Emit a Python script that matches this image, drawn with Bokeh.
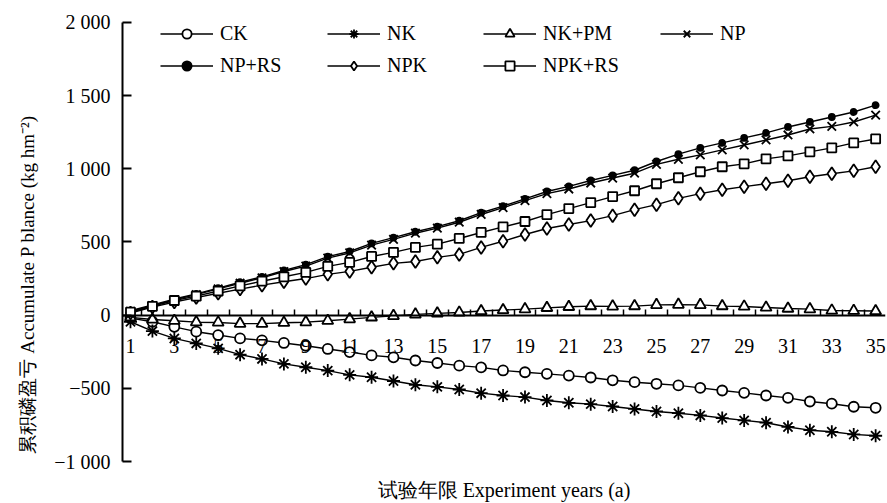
from bokeh.plotting import figure
from bokeh.models import Range1d, LinearAxis, FixedTicker, Legend, LegendItem, Title
from bokeh.embed import file_html
from bokeh.resources import INLINE

# ---------------- data ----------------
years = list(range(1, 36))

ck = [-20, -45, -80, -113, -136, -159, -172, -190, -209, -231, -252, -275, -288, -310, -327,
      -345, -357, -378, -390, -401, -413, -426, -445, -458, -469, -480, -497, -515, -531, -549,
      -565, -590, -605, -626, -633]
nk = [-45, -109, -159, -193, -227, -270, -299, -333, -356, -379, -408, -424, -450, -476, -490,
      -508, -533, -549, -560, -583, -599, -608, -624, -641, -658, -670, -685, -703, -719, -735,
      -764, -786, -797, -815, -824]
nk_pm = [-15, -30, -38, -48, -50, -58, -58, -52, -48, -38, -27, -15, -5, 5, 12,
         18, 28, 35, 41, 50, 57, 62, 60, 62, 70, 72, 70, 62, 59, 52,
         45, 41, 32, 30, 28]
np_ = [25, 65, 105, 140, 180, 218, 255, 298, 335, 390, 425, 478, 518, 560, 595,
       635, 688, 735, 782, 830, 862, 903, 937, 970, 1030, 1065, 1095, 1129, 1163, 1197,
       1231, 1272, 1290, 1320, 1367]
np_rs = [30, 70, 110, 145, 185, 225, 262, 305, 345, 400, 435, 490, 530, 570, 605,
         645, 700, 745, 795, 845, 880, 920, 955, 990, 1050, 1100, 1143, 1177, 1211, 1245,
         1286, 1320, 1354, 1388, 1435]
npk = [15, 55, 90, 120, 150, 178, 205, 228, 250, 279, 299, 327, 354, 367, 395,
       415, 463, 505, 551, 592, 619, 646, 680, 721, 755, 798, 830, 857, 878, 898,
       918, 946, 966, 986, 1014]
npk_rs = [20, 60, 100, 130, 165, 200, 232, 262, 292, 333, 361, 401, 429, 463, 485,
          524, 565, 603, 640, 687, 728, 769, 810, 850, 898, 939, 980, 1014, 1034, 1068,
          1088, 1116, 1143, 1177, 1204]

x_tick_years = list(range(1, 36, 2))
x_minor_ticks = [y + 0.5 for y in years[:-1]]
y_ticks = [-1000, -500, 0, 500, 1000, 1500, 2000]
y_tick_labels = ["\u22121 000", "\u2212500", "0", "500", "1 000", "1 500", "2 000"]

x_title = "试验年限 Experiment years (a)"
y_title = "累积磷盈亏 Accumulate P blance (kg hm\u207b\u00b2)"

FONT = "Liberation Serif"
FS = "20px"

# ---------------- figure ----------------
p = figure(width=887, height=503, output_backend="svg", toolbar_location=None,
           x_range=Range1d(0.635, 35.45), y_range=Range1d(-1000, 2150),
           x_axis_location=None, y_axis_location=None,
           min_border_left=122, min_border_right=2, min_border_top=0, min_border_bottom=40)
p.outline_line_color = None
p.xgrid.visible = False
p.ygrid.visible = False
p.background_fill_color = "white"
p.border_fill_color = "white"

# y axis
yaxis = LinearAxis(ticker=FixedTicker(ticks=y_ticks, minor_ticks=[]), bounds=(-1000, 2000),
                   major_label_overrides={t: l for t, l in zip(y_ticks, y_tick_labels)},
                   major_tick_in=9, major_tick_out=0, major_tick_line_width=2,
                   minor_tick_line_color=None,
                   axis_line_width=2, major_label_standoff=12,
                   major_label_text_font=FONT, major_label_text_font_size=FS,
                   major_label_text_font_style="normal",
                   major_label_text_color="black")
p.add_layout(yaxis, "left")

# y title
ytitle = Title(text=y_title, align="left", offset=8, standoff=28,
               text_font=FONT, text_font_size="19px", text_font_style="normal",
               text_color="black")
p.add_layout(ytitle, "left")

# x axis through zero
xaxis = LinearAxis(fixed_location=0,
                   ticker=FixedTicker(ticks=x_tick_years, minor_ticks=x_minor_ticks),
                   major_tick_line_color=None, major_tick_in=0, major_tick_out=0,
                   minor_tick_in=6, minor_tick_out=0, minor_tick_line_width=1.5,
                   axis_line_width=2, major_label_standoff=24,
                   major_label_text_font=FONT, major_label_text_font_size=FS,
                   major_label_text_font_style="normal",
                   major_label_text_color="black")
p.add_layout(xaxis, "below")

# x title axis
taxis = LinearAxis(ticker=FixedTicker(ticks=[], minor_ticks=[]),
                   axis_line_color=None, major_tick_line_color=None, minor_tick_line_color=None,
                   major_tick_out=0, minor_tick_out=0, major_label_standoff=0,
                   axis_label=x_title, axis_label_standoff=17,
                   axis_label_text_font=FONT, axis_label_text_font_size=FS,
                   axis_label_text_font_style="normal", axis_label_text_color="black")
p.add_layout(taxis, "below")

# ---------------- series ----------------
series = [
    ("CK", ck, "circle", 10, "white"),
    ("NK", nk, "asterisk", 13, "black"),
    ("NK+PM", nk_pm, "triangle", 11, "white"),
    ("NP", np_, "x", 12, "black"),
    ("NP+RS", np_rs, "circle", 6, "black"),
    ("NPK", npk, "diamond", 13, "white"),
    ("NPK+RS", npk_rs, "square", 9, "white"),
]

items = {}
for name, vals, marker, size, fill in series:
    lr = p.line(years, vals, line_color="black", line_width=1.4)
    sr = p.scatter(years, vals, marker=marker, size=size, line_color="black",
                   line_width=1.8, fill_color=fill)
    items[name] = LegendItem(label=name, renderers=[lr, sr])

columns = [(["CK", "NP+RS"], 38), (["NK", "NPK"], 205), (["NK+PM", "NPK+RS"], 361), (["NP"], 538)]
H = 23
SP = 9
TOP = 24
for names, xoff in columns:
    n = len(names)
    height = n * H + (n - 1) * SP
    vy = 463 - TOP - height
    leg = Legend(items=[items[k] for k in names], location=(xoff, vy),
                 orientation="vertical", padding=0, margin=0, spacing=SP,
                 glyph_width=53, glyph_height=H, label_height=H, label_standoff=7,
                 label_text_font=FONT, label_text_font_size=FS, label_text_color="black",
                 label_text_font_style="normal",
                 border_line_color=None, background_fill_alpha=0)
    p.add_layout(leg, "center")

open("out.html", "w").write(file_html(p, INLINE))
